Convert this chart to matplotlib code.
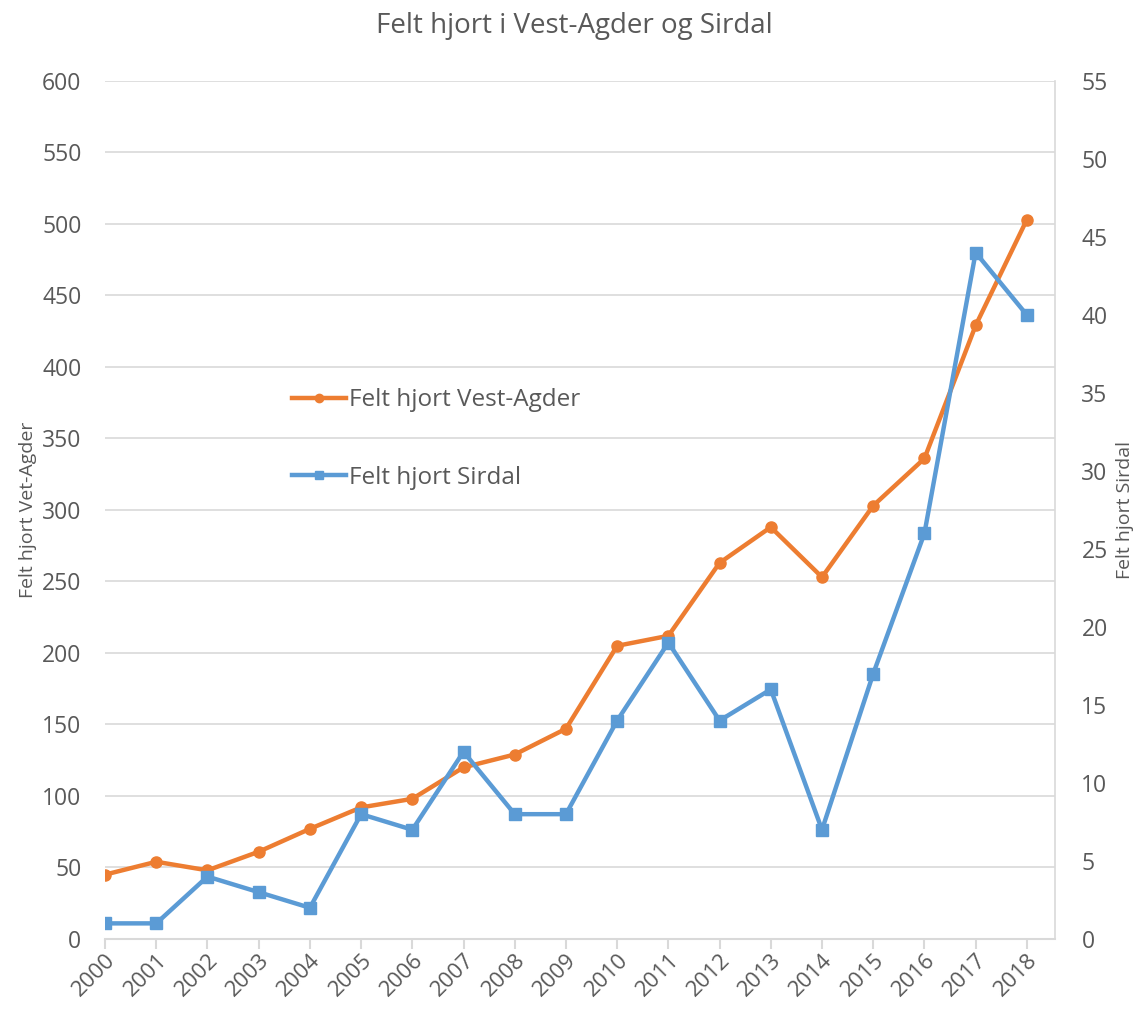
import matplotlib.pyplot as plt

# data
years = list(range(2000, 2019))
vest_agder = [45, 54, 48, 61, 77, 92, 98, 120, 129, 147, 205, 212, 263, 288, 253, 303, 336, 429, 503]
sirdal = [1, 1, 4, 3, 2, 8, 7, 12, 8, 8, 14, 19, 14, 16, 7, 17, 26, 44, 40]

plt.rcParams['font.family'] = ['Open Sans', 'DejaVu Sans']
grey = '#595959'
orange = '#ED7D31'
blue = '#5B9BD5'

fig = plt.figure(figsize=(11.48, 10.34), dpi=100)
ax = fig.add_axes([0.0915, 0.0919, 0.8275, 0.8298])
ax2 = ax.twinx()

l1, = ax.plot(years, vest_agder, color=orange, linewidth=3.2, marker='o', markersize=8,
              label='Felt hjort Vest-Agder', zorder=3)
l2, = ax2.plot(years, sirdal, color=blue, linewidth=3.2, marker='s', markersize=8,
               label='Felt hjort Sirdal', zorder=3)

ax.set_xlim(2000, 2018.55)
ax.set_ylim(0, 600)
ax2.set_ylim(0, 55)
ax.set_yticks(range(0, 601, 50))
ax2.set_yticks(range(0, 56, 5))
ax.set_xticks(years)
ax.set_xticklabels([str(y) for y in years], rotation=45, ha='right', rotation_mode='anchor')

ax.grid(axis='y', color='#d9d9d9', linewidth=1.2)
ax.set_axisbelow(True)

for a in (ax, ax2):
    for s in ('top', 'left', 'right', 'bottom'):
        a.spines[s].set_visible(False)
ax.spines['bottom'].set_visible(True)
ax.spines['bottom'].set_color('#d9d9d9')
ax.spines['bottom'].set_linewidth(1.5)
ax2.spines['right'].set_visible(True)
ax2.spines['right'].set_color('#d9d9d9')
ax2.spines['right'].set_linewidth(1.2)

ax.tick_params(axis='y', length=0, labelsize=16.5, labelcolor=grey, pad=17)
ax2.tick_params(axis='y', length=0, labelsize=16.5, labelcolor=grey, pad=19)
ax.tick_params(axis='x', length=7, width=1.5, color='#d9d9d9', labelsize=16,
               labelcolor=grey, pad=1)

ax.set_ylabel('Felt hjort Vet-Agder', fontsize=14, color=grey, labelpad=4)
ax2.set_ylabel('Felt hjort Sirdal', fontsize=14, color=grey, labelpad=6)

fig.suptitle('Felt hjort i Vest-Agder og Sirdal', fontsize=20, color=grey, y=0.988)

ax.legend(handles=[l1, l2], loc='center left', bbox_to_anchor=(0.197, 0.5825),
          frameon=False, fontsize=17.5, labelcolor=grey, labelspacing=2.2,
          handlelength=2.2, handletextpad=0.15, markerscale=0.75,
          borderpad=0, borderaxespad=0)

fig.savefig('out.png', dpi=100)
